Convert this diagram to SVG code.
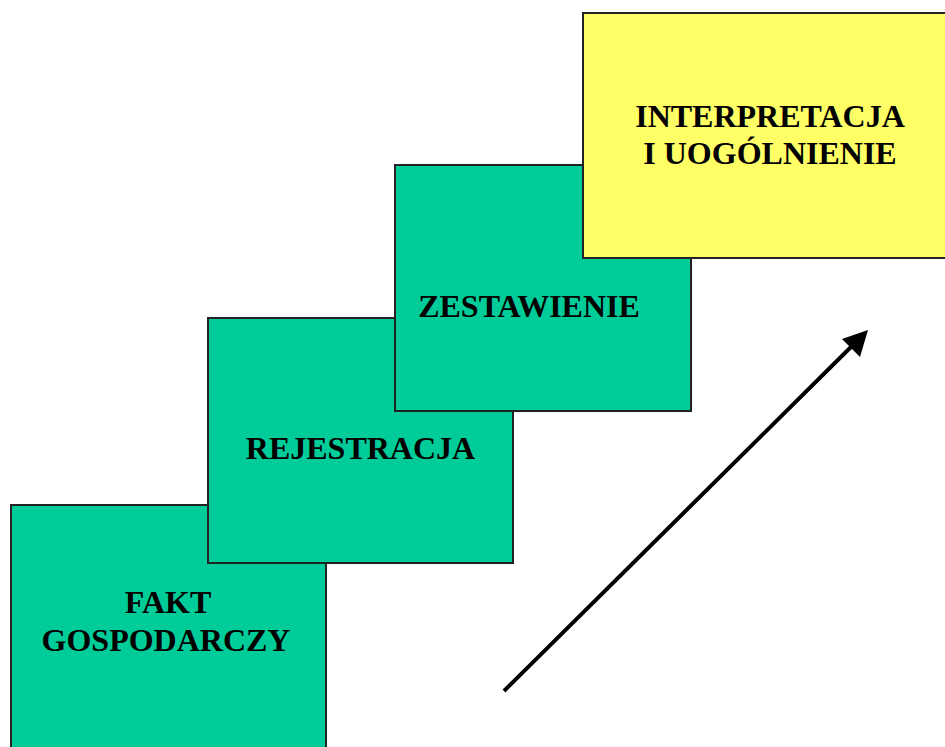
<svg xmlns="http://www.w3.org/2000/svg" width="945" height="747" viewBox="0 0 945 747">
<style>
.box{stroke:#222;stroke-width:2}
.g{fill:#00CC99}
.y{fill:#FFFF66}
text{font-family:"Liberation Serif","Times New Roman",serif;font-weight:bold;font-size:32px;fill:#000}
</style>
<rect width="945" height="747" fill="#fff"/>
<g id="fakt">
<rect class="box g" x="11" y="505" width="315" height="250"/>
<text x="168" y="613" text-anchor="middle">FAKT</text>
<text x="166" y="651" text-anchor="middle">GOSPODARCZY</text>
</g>
<g id="rejestracja">
<rect class="box g" x="208" y="318" width="305" height="245"/>
<text x="360.5" y="459" text-anchor="middle">REJESTRACJA</text>
</g>
<g id="zestawienie">
<rect class="box g" x="395" y="165" width="296" height="246"/>
<text x="529" y="317" text-anchor="middle" font-size="32.5">ZESTAWIENIE</text>
</g>
<g id="interpretacja">
<rect class="box y" x="583" y="13" width="372" height="245"/>
<text x="770" y="127" text-anchor="middle">INTERPRETACJA</text>
<text x="770" y="164" text-anchor="middle">I UOGÓLNIENIE</text>
</g>
<g id="connectors">
<line x1="504" y1="691" x2="855" y2="343" stroke="#000" stroke-width="4"/>
<polygon points="868,330 842,339 860,357" fill="#000"/>
</g>
</svg>
